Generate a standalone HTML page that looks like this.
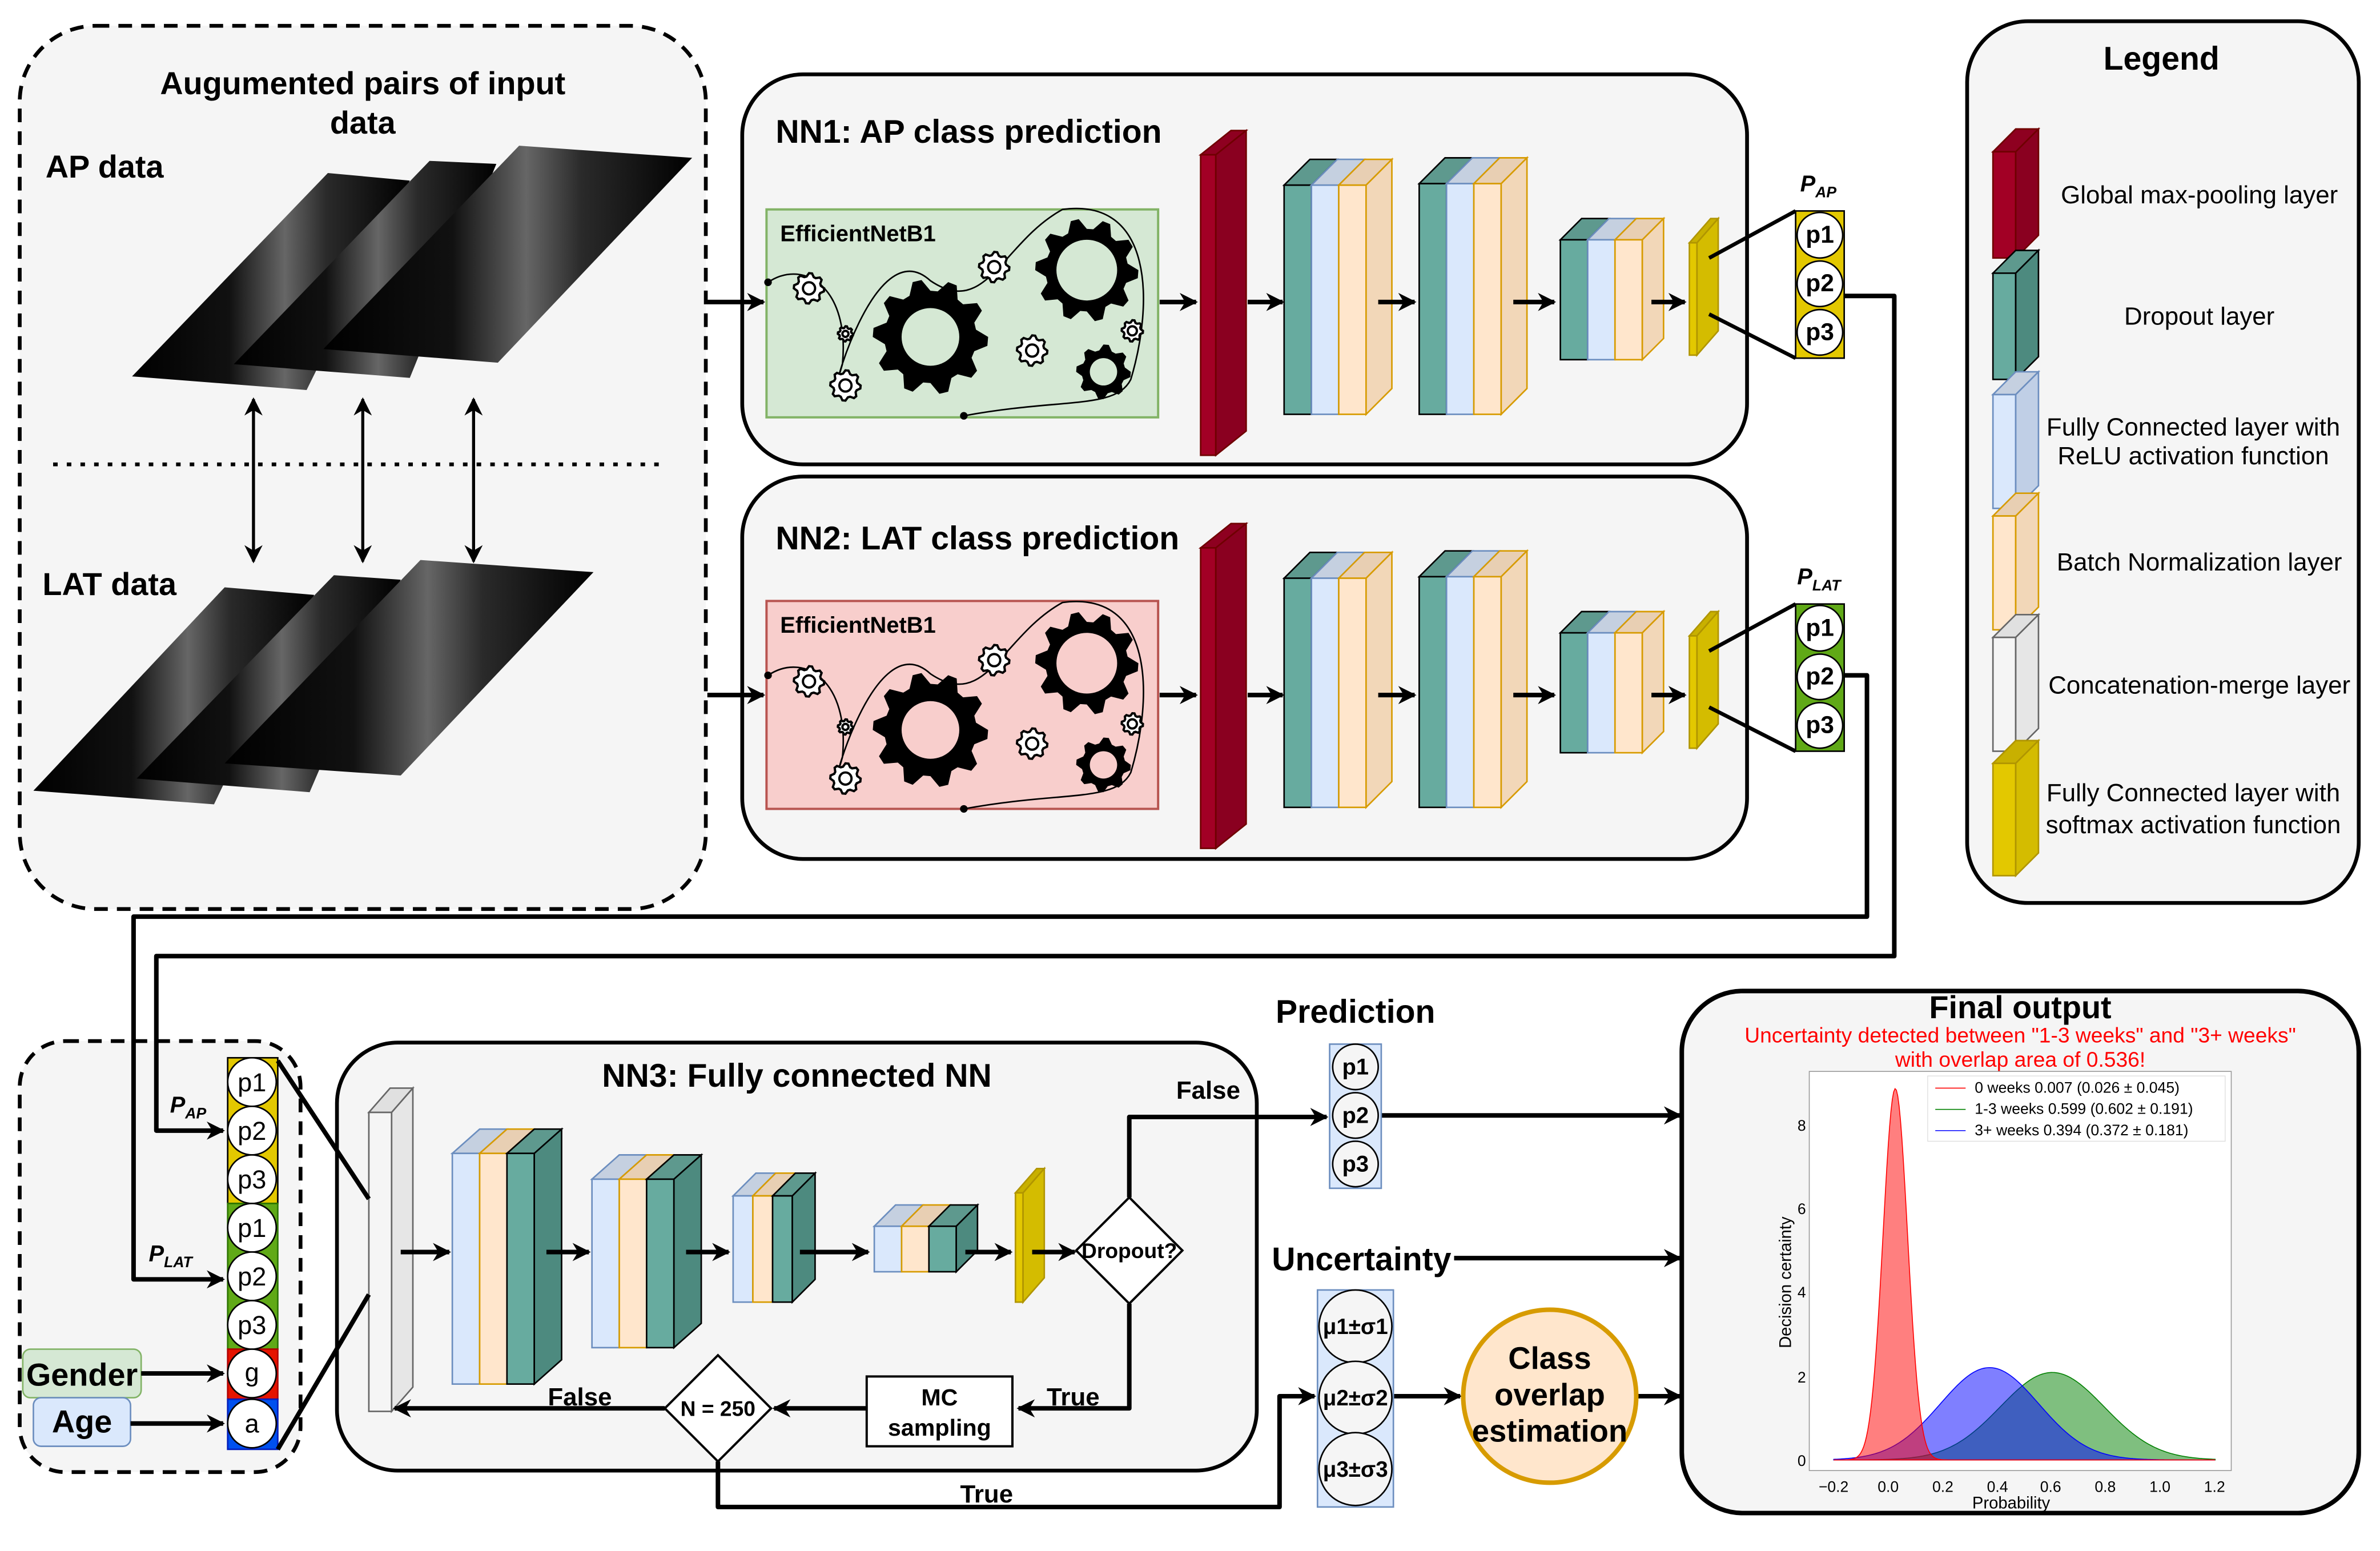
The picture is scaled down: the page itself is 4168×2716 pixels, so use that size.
<!DOCTYPE html>
<html><head><meta charset="utf-8"><style>
html,body{margin:0;padding:0;background:#fff;}
svg{display:block;}
text{font-family:"Liberation Sans",sans-serif;}
.b{font-weight:bold;}
</style></head><body>
<svg id="s" xmlns="http://www.w3.org/2000/svg" width="4168" height="2716" viewBox="0 0 1568 1022" preserveAspectRatio="none">
<defs>
<marker id="ar" viewBox="0 0 10 10" refX="9" refY="5" markerWidth="4" markerHeight="4" orient="auto-start-reverse" markerUnits="strokeWidth"><path d="M0,0 L10,5 L0,10 L3,5 z" fill="#000"/></marker>
<marker id="ar2" viewBox="0 0 10 10" refX="9" refY="5" markerWidth="6" markerHeight="6" orient="auto-start-reverse" markerUnits="strokeWidth"><path d="M0,0 L10,5 L0,10 L3,5 z" fill="#000"/></marker>
<linearGradient id="xg" x1="0" y1="0" x2="1" y2="0"><stop offset="0" stop-color="#000"/><stop offset="0.35" stop-color="#111"/><stop offset="0.55" stop-color="#666"/><stop offset="0.7" stop-color="#2a2a2a"/><stop offset="1" stop-color="#000"/></linearGradient>
</defs>
<rect width="1568" height="1022" fill="#fff"/>

<rect x="13" y="17" width="452" height="582" rx="50" fill="#f5f5f5" stroke="#000" stroke-width="2.5" stroke-dasharray="9,6"/>
<text x="239" y="62" font-size="21" class="b" text-anchor="middle">Augumented pairs of input</text>
<text x="239" y="88" font-size="21" class="b" text-anchor="middle">data</text>
<text x="30" y="117" font-size="21" class="b">AP data</text>
<text x="28" y="392" font-size="21" class="b">LAT data</text>
<polygon points="87,248 216,114 270,119 202,257" fill="url(#xg)"/>
<polygon points="154,240 283,106 327,108 270,249" fill="url(#xg)"/>
<polygon points="213,230 342,96 456,104 328,239" fill="url(#xg)"/>
<polygon points="22,521 148,387 207,392 141,530" fill="url(#xg)"/>
<polygon points="90,513 220,379 264,382 204,522" fill="url(#xg)"/>
<polygon points="148,503 277,369 391,377 264,511" fill="url(#xg)"/>
<line x1="35" y1="306" x2="440" y2="306" stroke="#000" stroke-width="2.5" stroke-dasharray="3,6"/>
<g stroke="#000" stroke-width="2" marker-start="url(#ar2)" marker-end="url(#ar2)">
<line x1="167" y1="263" x2="167" y2="370"/><line x1="239" y1="263" x2="239" y2="370"/><line x1="312" y1="263" x2="312" y2="370"/>
</g>

<rect x="489" y="49" width="662" height="257" rx="40" fill="#f5f5f5" stroke="#000" stroke-width="2.5"/>
<text x="511" y="94" font-size="21.5" class="b">NN1: AP class prediction</text>
<rect x="505" y="138" width="258" height="137" fill="#d5e8d4" stroke="#82b366" stroke-width="1.5"/>
<text x="514" y="159" font-size="15" class="b">EfficientNetB1</text>
<rect x="489" y="314" width="662" height="252" rx="40" fill="#f5f5f5" stroke="#000" stroke-width="2.5"/>
<text x="511" y="362" font-size="21.5" class="b">NN2: LAT class prediction</text>
<rect x="505" y="396" width="258" height="137" fill="#f8cecc" stroke="#b85450" stroke-width="1.5"/>
<text x="514" y="417" font-size="15" class="b">EfficientNetB1</text>
<g id="dyn"></g>

<text x="1186" y="126" font-size="15" class="b" font-style="italic">P<tspan font-size="10" dy="4">AP</tspan></text>
<text x="1184" y="385" font-size="15" class="b" font-style="italic">P<tspan font-size="10" dy="4">LAT</tspan></text>
<g font-size="16" text-anchor="middle" class="b">
<text x="1199" y="160">p1</text><text x="1199" y="192">p2</text><text x="1199" y="224">p3</text>
<text x="1199" y="419">p1</text><text x="1199" y="451">p2</text><text x="1199" y="483">p3</text>
</g>

<rect x="1296" y="14" width="258" height="581" rx="40" fill="#f5f5f5" stroke="#000" stroke-width="2.5"/>
<text x="1424" y="46" font-size="21.5" class="b" text-anchor="middle">Legend</text>
<g font-size="16.5" text-anchor="middle">
<text x="1449" y="134">Global max-pooling layer</text>
<text x="1449" y="214">Dropout layer</text>
<text x="1445" y="287">Fully Connected layer with</text>
<text x="1445" y="306">ReLU activation function</text>
<text x="1449" y="376">Batch Normalization layer</text>
<text x="1449" y="457">Concatenation-merge layer</text>
<text x="1445" y="528">Fully Connected layer with</text>
<text x="1445" y="549">softmax activation function</text>
</g>

<rect x="13" y="686" width="185" height="284" rx="30" fill="#f5f5f5" stroke="#000" stroke-width="2.5" stroke-dasharray="9,6"/>
<rect x="150" y="697" width="33" height="96" fill="#e3c800" stroke="#000" stroke-width="1"/>
<rect x="150" y="793" width="33" height="96" fill="#60a917" stroke="#2d7600" stroke-width="1"/>
<rect x="150" y="889" width="33" height="33" fill="#e51400" stroke="#b20000" stroke-width="1"/>
<rect x="150" y="922" width="33" height="33" fill="#0050ef" stroke="#001dbc" stroke-width="1"/>
<g fill="#fff" stroke="#000" stroke-width="1">
<circle cx="166" cy="713" r="16"/><circle cx="166" cy="745" r="16"/><circle cx="166" cy="777" r="16"/>
<circle cx="166" cy="809" r="16"/><circle cx="166" cy="841" r="16"/><circle cx="166" cy="873" r="16"/>
<circle cx="166" cy="905" r="16"/><circle cx="166" cy="938" r="16"/>
</g>
<g font-size="17" text-anchor="middle">
<text x="166" y="719">p1</text><text x="166" y="751">p2</text><text x="166" y="783">p3</text>
<text x="166" y="815">p1</text><text x="166" y="847">p2</text><text x="166" y="879">p3</text>
<text x="166" y="910">g</text><text x="166" y="944">a</text>
</g>
<text x="112" y="733" font-size="15" class="b" font-style="italic">P<tspan font-size="10" dy="4">AP</tspan></text>
<text x="98" y="831" font-size="15" class="b" font-style="italic">P<tspan font-size="10" dy="4">LAT</tspan></text>
<rect x="15" y="889" width="78" height="32" rx="5" fill="#d5e8d4" stroke="#82b366"/>
<text x="54" y="913" font-size="21" class="b" text-anchor="middle">Gender</text>
<rect x="22" y="921" width="64" height="32" rx="5" fill="#dae8fc" stroke="#6c8ebf"/>
<text x="54" y="944" font-size="21" class="b" text-anchor="middle">Age</text>

<g fill="none" stroke="#000" stroke-width="3" stroke-linejoin="round">
<path d="M1215,195 H1248 V630 H103 V745 H147" marker-end="url(#ar)"/>
<path d="M1215,445 H1230 V604 H88 V843 H147" marker-end="url(#ar)"/>
<path d="M93,905 H147" marker-end="url(#ar)"/>
<path d="M86,938 H147" marker-end="url(#ar)"/>
<path d="M466,199 H503" marker-end="url(#ar)"/>
<path d="M466,458 H503" marker-end="url(#ar)"/>
</g>

<rect x="222" y="687" width="606" height="282" rx="40" fill="#f5f5f5" stroke="#000" stroke-width="2.5"/>
<text x="525" y="716" font-size="21.5" class="b" text-anchor="middle">NN3: Fully connected NN</text>
<g id="dyn3"></g>
<g fill="none" stroke="#000" stroke-width="3" stroke-linejoin="round">
<line x1="183" y1="699" x2="243" y2="790"/>
<line x1="183" y1="955" x2="243" y2="853"/>
<path d="M744,789 V736 H874" marker-end="url(#ar)"/>
<path d="M744,859 V928 H671" marker-end="url(#ar)"/>
<path d="M571,928 H510" marker-end="url(#ar)"/>
<path d="M438,928 H260" marker-end="url(#ar)"/>
<path d="M473,963 V993 H843 V920 H866" marker-end="url(#ar)"/>
<path d="M910,735 H1107" marker-end="url(#ar)"/>
<path d="M958,829 H1107" marker-end="url(#ar)"/>
<path d="M918,920 H962" marker-end="url(#ar)"/>
<path d="M1078,920 H1107" marker-end="url(#ar)"/>
</g>
<polygon points="744,789 779,824 744,859 709,824" fill="#fff" stroke="#000" stroke-width="1.5"/>
<text x="744" y="829" font-size="14" class="b" text-anchor="middle">Dropout?</text>
<polygon points="473,893 508,928 473,963 438,928" fill="#fff" stroke="#000" stroke-width="1.5"/>
<text x="473" y="933" font-size="14" class="b" text-anchor="middle">N = 250</text>
<rect x="571" y="907" width="96" height="46" fill="#fff" stroke="#000" stroke-width="1.5"/>
<text x="619" y="926" font-size="15.5" class="b" text-anchor="middle">MC</text>
<text x="619" y="946" font-size="15.5" class="b" text-anchor="middle">sampling</text>
<text x="796" y="724" font-size="16.5" class="b" text-anchor="middle">False</text>
<text x="707" y="926" font-size="16.5" class="b" text-anchor="middle">True</text>
<text x="382" y="926" font-size="16.5" class="b" text-anchor="middle">False</text>
<text x="650" y="990" font-size="16.5" class="b" text-anchor="middle">True</text>

<text x="893" y="674" font-size="21.5" class="b" text-anchor="middle">Prediction</text>
<rect x="876" y="688" width="34" height="95" fill="#dae8fc" stroke="#6c8ebf"/>
<g fill="#f5f5f5" stroke="#000" stroke-width="1"><circle cx="893" cy="703" r="15"/><circle cx="893" cy="735" r="15"/><circle cx="893" cy="767" r="15"/></g>
<g font-size="15" class="b" text-anchor="middle"><text x="893" y="708">p1</text><text x="893" y="740">p2</text><text x="893" y="772">p3</text></g>
<text x="897" y="837" font-size="21.5" class="b" text-anchor="middle">Uncertainty</text>
<rect x="868" y="850" width="50" height="143" fill="#dae8fc" stroke="#6c8ebf"/>
<g fill="#f5f5f5" stroke="#000" stroke-width="1"><circle cx="893" cy="874" r="24"/><circle cx="893" cy="921" r="24"/><circle cx="893" cy="968" r="24"/></g>
<g font-size="14.5" class="b" text-anchor="middle"><text x="893" y="879">μ1±σ1</text><text x="893" y="926">μ2±σ2</text><text x="893" y="973">μ3±σ3</text></g>
<circle cx="1021" cy="920" r="57" fill="#ffe6cc" stroke="#d79b00" stroke-width="3"/>
<g font-size="20.5" class="b" text-anchor="middle"><text x="1021" y="902">Class</text><text x="1021" y="926">overlap</text><text x="1021" y="950">estimation</text></g>

<rect x="1108" y="653" width="446" height="344" rx="40" fill="#f5f5f5" stroke="#000" stroke-width="3"/>
<text x="1331" y="671" font-size="21" class="b" text-anchor="middle">Final output</text>
<text x="1331" y="687" font-size="14" fill="#f00" text-anchor="middle" font-family="DejaVu Sans">Uncertainty detected between "1-3 weeks" and "3+ weeks"</text>
<text x="1331" y="703" font-size="14" fill="#f00" text-anchor="middle" font-family="DejaVu Sans">with overlap area of 0.536!</text>
<rect x="1192" y="706" width="278" height="263" fill="#fff" stroke="#999" stroke-width="0.6"/>
<g id="curves"></g>
<rect x="1270" y="709" width="196" height="43" fill="#fff" stroke="#ddd" stroke-width="0.5"/>
<line x1="1275" y1="717" x2="1295" y2="717" stroke="#f00" stroke-width="0.6"/>
<line x1="1275" y1="731" x2="1295" y2="731" stroke="#008000" stroke-width="0.6"/>
<line x1="1275" y1="745" x2="1295" y2="745" stroke="#00f" stroke-width="0.6"/>
<g font-size="10" font-family="DejaVu Sans">
<text x="1301" y="720">0 weeks 0.007 (0.026 ± 0.045)</text>
<text x="1301" y="734">1-3 weeks 0.599 (0.602 ± 0.191)</text>
<text x="1301" y="748">3+ weeks 0.394 (0.372 ± 0.181)</text>
</g>
<g font-size="10" font-family="DejaVu Sans" text-anchor="middle">
<text x="1208" y="983">−0.2</text><text x="1244" y="983">0.0</text><text x="1280" y="983">0.2</text><text x="1316" y="983">0.4</text><text x="1351" y="983">0.6</text><text x="1387" y="983">0.8</text><text x="1423" y="983">1.0</text><text x="1459" y="983">1.2</text>
<text x="1187" y="966">0</text><text x="1187" y="911">2</text><text x="1187" y="855">4</text><text x="1187" y="800">6</text><text x="1187" y="745">8</text>
<text x="1325" y="994" font-size="11">Probability</text>
<text x="1180" y="845" font-size="11" transform="rotate(-90 1180 845)">Decision certainty</text>
</g>
</svg>
<script>
(function(){
var NS="http://www.w3.org/2000/svg";
function el(p,t,a){var e=document.createElementNS(NS,t);for(var k in a)e.setAttribute(k,a[k]);p.appendChild(e);return e;}
var C={g:["#67ab9f","#5e998e","#4d8a7f","#000"],b:["#dae8fc","#c5d0e0","#c0cfe6","#6c8ebf"],o:["#ffe6cc","#e8cfb3","#f2d7b8","#d79b00"],r:["#a20025","#8e0020","#8a0020","#6f0000"],y:["#e3c800","#c8b000","#d4bc00","#b09500"],w:["#f5f5f5","#e0e0e0","#e6e6e6","#666"]};
function group(p,x,y,h,lw,dx,dy,layers){
 var cx=x;
 for(var i=0;i<layers.length;i++){
  var c=C[layers[i]];
  el(p,"polygon",{points:[cx,y,cx+dx,y-dy,cx+dx+lw,y-dy,cx+lw,y].join(" "),fill:c[1],stroke:c[3],"stroke-width":1});
  el(p,"rect",{x:cx,y:y,width:lw,height:h,fill:c[0],stroke:c[3],"stroke-width":1});
  cx+=lw;
 }
 var c=C[layers[layers.length-1]];
 el(p,"polygon",{points:[cx,y,cx+dx,y-dy,cx+dx,y-dy+h,cx,y+h].join(" "),fill:c[2],stroke:c[3],"stroke-width":1});
}
function arrow(p,x1,y,x2){el(p,"line",{x1:x1,y1:y,x2:x2,y2:y,stroke:"#000","stroke-width":3,"marker-end":"url(#ar)"});}
function gear(p,cx,cy,R,hole,bg,white){
 var n=R>25?10:8,pts=[];
 for(var i=0;i<n*4;i++){var a=i*Math.PI*2/(n*4);var r=(i%4<2)?R:R*0.8;pts.push((cx+r*Math.cos(a)).toFixed(1)+","+(cy+r*Math.sin(a)).toFixed(1));}
 el(p,"polygon",{points:pts.join(" "),fill:white?"#fff":"#000",stroke:"#000","stroke-width":white?1.5:0});
 el(p,"circle",{cx:cx,cy:cy,r:hole,fill:white?"#fff":bg,stroke:"#000","stroke-width":white?1.5:0});
}
var d=document.getElementById("dyn");
[[0,"#d5e8d4"],[259,"#f8cecc"]].forEach(function(o){
 var Y=o[0],bg=o[1];
 el(d,"path",{d:"M506,"+(186+Y)+" C530,"+(170+Y)+" 560,"+(190+Y)+" 555,"+(240+Y)+" C545,"+(275+Y)+" 575,"+(150+Y)+" 613,"+(185+Y)+" C650,"+(210+Y)+" 660,"+(160+Y)+" 700,"+(138+Y)+" C760,"+(130+Y)+" 760,"+(200+Y)+" 745,"+(250+Y)+" C735,"+(270+Y)+" 700,"+(262+Y)+" 635,"+(274+Y),fill:"none",stroke:"#000","stroke-width":1});
 el(d,"circle",{cx:506,cy:186+Y,r:2.5,fill:"#000"});el(d,"circle",{cx:635,cy:274+Y,r:2.5,fill:"#000"});
 gear(d,613,222+Y,38,19,bg,false);
 gear(d,716,178+Y,34,20,bg,false);
 gear(d,727,245+Y,18,9,bg,false);
 gear(d,533,190+Y,10,4,bg,true);gear(d,557,254+Y,10,4,bg,true);gear(d,655,176+Y,10,4,bg,true);
 gear(d,680,231+Y,10,4,bg,true);gear(d,746,218+Y,7,3,bg,true);gear(d,557,220+Y,5,2,bg,true);
 arrow(d,764,199+Y,788);
 group(d,791,102+Y,198,10,20,16,["r"]);
 arrow(d,822,199+Y,845);
 group(d,846,122+Y,151,18,17,17,["g","b","o"]);
 arrow(d,908,199+Y,932);
 group(d,935,121+Y,152,18,17,17,["g","b","o"]);
 arrow(d,997,199+Y,1024);
 group(d,1028,158+Y,79,18,14,14,["g","b","o"]);
 arrow(d,1088,199+Y,1110);
 group(d,1113,160+Y,74,5,14,16,["y"]);
 el(d,"line",{x1:1126,y1:170+Y,x2:1183,y2:139+Y,stroke:"#000","stroke-width":2.5});
 el(d,"line",{x1:1126,y1:207+Y,x2:1183,y2:236+Y,stroke:"#000","stroke-width":2.5});
 el(d,"rect",{x:1183,y:139+Y,width:32,height:97,fill:Y?"#60a917":"#e3c800",stroke:"#000","stroke-width":1});
 [155,187,219].forEach(function(cy){el(d,"circle",{cx:1199,cy:cy+Y,r:15,fill:"#fff",stroke:"#000","stroke-width":1});});
});
var s=document.getElementById("s");
var texts=[].slice.call(s.querySelectorAll("text"));
texts.forEach(function(t){if(/^p[123]$/.test(t.textContent)&&+t.getAttribute("x")==1199)s.appendChild(t.parentNode);});
var L=el(s,"g",{});
group(L,1313,100,70,15,15,15,["r"]);
group(L,1313,180,70,15,15,15,["g"]);
group(L,1313,260,75,15,15,15,["b"]);
group(L,1313,340,75,15,15,15,["o"]);
group(L,1313,420,75,15,15,15,["w"]);
group(L,1313,503,74,15,15,15,["y"]);
var n3=document.getElementById("dyn3");
group(n3,243,733,197,15,14,16,["w"]);
arrow(n3,264,825,296);
group(n3,298,760,152,18,18,16,["b","o","g"]);
arrow(n3,360,825,388);
group(n3,390,777,111,18,18,16,["b","o","g"]);
arrow(n3,452,825,480);
group(n3,483,788,70,13,15,15,["b","o","g"]);
arrow(n3,527,825,572);
group(n3,576,808,30,18,14,14,["b","o","g"]);
arrow(n3,636,825,666);
group(n3,669,786,72,5,14,16,["y"]);
arrow(n3,680,825,708);
var cg=document.getElementById("curves");
function X(v){return 1244+v*179.5;}function Yv(v){return 962-v*27.6;}
function pdf(x,m,sd){return Math.exp(-0.5*Math.pow((x-m)/sd,2))/(sd*Math.sqrt(2*Math.PI));}
[[0.602,0.191,"rgba(0,128,0,0.5)","#008000"],[0.372,0.181,"rgba(0,0,255,0.5)","#00f"],[0.026,0.045,"rgba(255,0,0,0.5)","#f00"]].forEach(function(c){
 var dd="M"+X(-0.2)+","+Yv(0);
 for(var x=-0.2;x<=1.2001;x+=0.005){dd+=" L"+X(x).toFixed(2)+","+Yv(pdf(x,c[0],c[1])).toFixed(2);}
 dd+=" L"+X(1.2)+","+Yv(0)+" Z";
 el(cg,"path",{d:dd,fill:c[2],stroke:c[3],"stroke-width":0.6});
});
})();
</script>
</body></html>
